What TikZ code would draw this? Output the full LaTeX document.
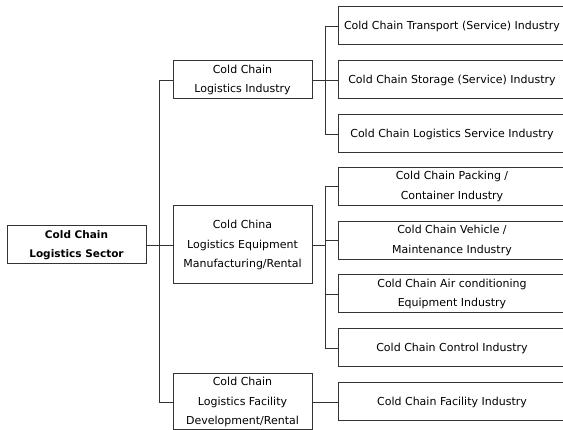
\documentclass[tikz,border=0pt]{standalone}
\usepackage{fontspec}
\setmainfont{DejaVu Sans}
\usetikzlibrary{positioning}
\begin{document}
\begin{tikzpicture}[x=1pt, y=-1pt]
    % Define styles
    \tikzstyle{box}=[rectangle, draw=black!80, line width=1pt, text=black, align=center, inner sep=0pt, minimum height=38pt, font=\fontsize{11}{19.5}\selectfont]
    \tikzstyle{midbox}=[box, minimum width=139pt]
    \tikzstyle{subbox}=[box, minimum width=228pt]
    \tikzstyle{link}=[draw=black!80, line width=0.9pt]

    \useasboundingbox (0,0) rectangle (563,430);
    \clip (0,0) rectangle (563,430);

    % Sector
    \node[midbox, font=\fontsize{10.5}{19.5}\selectfont\bfseries] (sector) at (76.5,245) {Cold Chain\\Logistics Sector};

    % Industries
    \node[midbox] (logind) at (242.5,80) {Cold Chain\\Logistics Industry};
    \node[midbox, minimum height=78pt] (equip) at (242.5,245) {Cold China\\Logistics Equipment\\Manufacturing/Rental};
    \node[midbox, minimum height=56pt] (facil) at (242.5,402) {Cold Chain\\Logistics Facility\\Development/Rental};

    % Sub industries
    \node[subbox] (transport) at (452,26) {Cold Chain Transport (Service) Industry};
    \node[subbox] (storage) at (452,80) {Cold Chain Storage (Service) Industry};
    \node[subbox] (service) at (452,134) {Cold Chain Logistics Service Industry};
    \node[subbox] (packing) at (452,186.5) {Cold Chain Packing /\\Container Industry};
    \node[subbox] (vehicle) at (452,240.5) {Cold Chain Vehicle /\\Maintenance Industry};
    \node[subbox] (aircon) at (452,294) {Cold Chain Air conditioning\\Equipment Industry};
    \node[subbox] (control) at (452,348) {Cold Chain Control Industry};
    \node[subbox] (facind) at (452,402) {Cold Chain Facility Industry};

    % Connections
    \draw[link] (sector.east) -- ++(13,0) coordinate (trunk);
    \draw[link] (trunk) |- (logind.west);
    \draw[link] (trunk) |- (equip.west);
    \draw[link] (trunk) |- (facil.west);

    \draw[link] (logind.east) -- ++(13,0) coordinate (forka);
    \draw[link] (forka) |- (transport.west);
    \draw[link] (forka) |- (storage.west);
    \draw[link] (forka) |- (service.west);

    \draw[link] (equip.east) -- ++(13,0) coordinate (forkb);
    \draw[link] (forkb) |- (packing.west);
    \draw[link] (forkb) |- (vehicle.west);
    \draw[link] (forkb) |- (aircon.west);
    \draw[link] (forkb) |- (control.west);

    \draw[link] (facil.east) -- (facind.west);
\end{tikzpicture}
\end{document}
